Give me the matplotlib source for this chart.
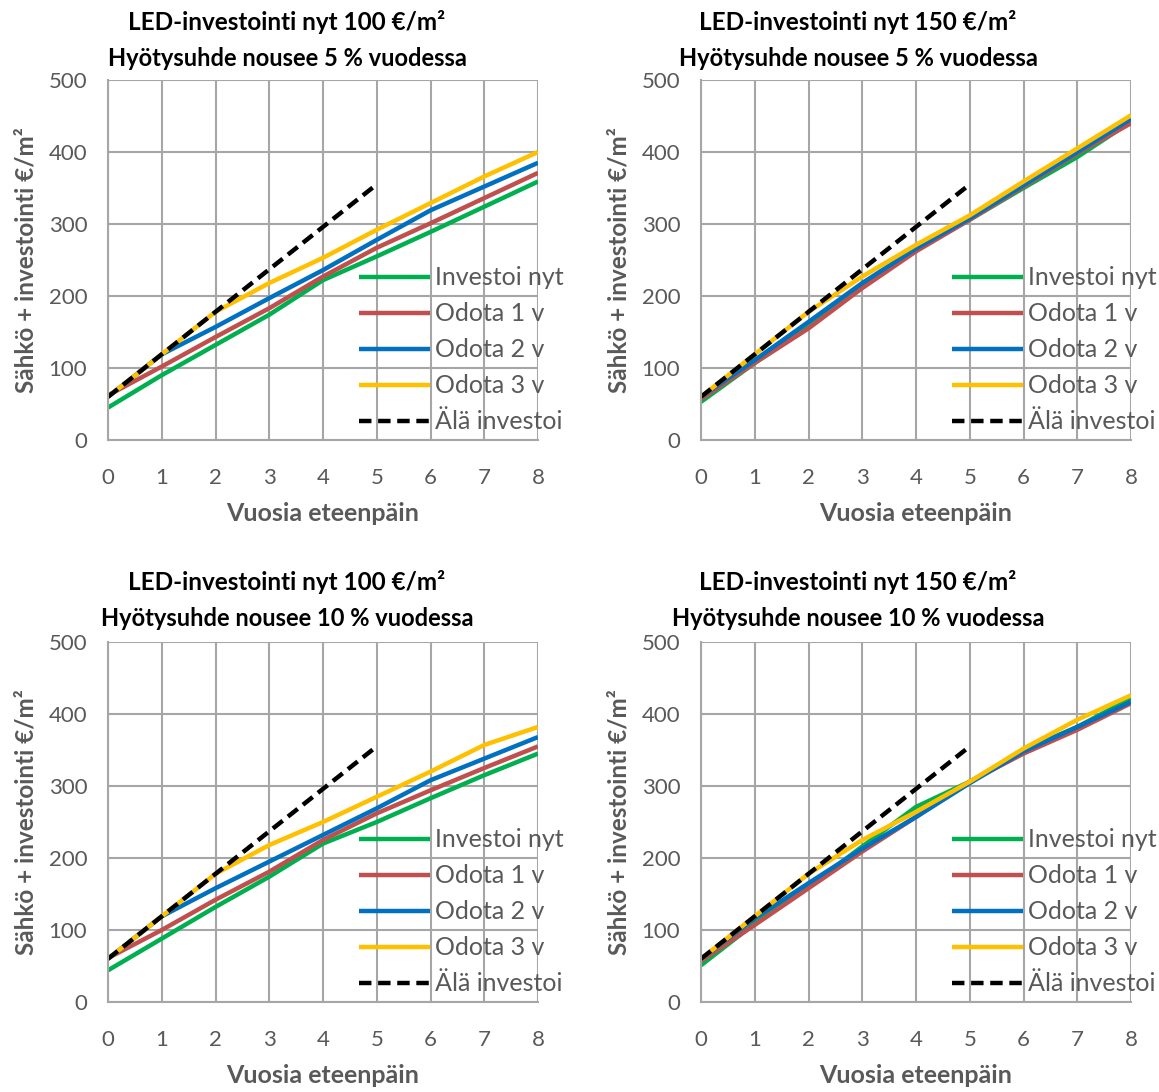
import matplotlib
matplotlib.use('Agg')
import matplotlib.pyplot as plt

plt.rcParams['font.family'] = ['Lato', 'DejaVu Sans']

years = [0, 1, 2, 3, 4, 5, 6, 7, 8]
years_no_inv = [0, 1, 2, 3, 4, 5]
series_names = ['Investoi nyt', 'Odota 1 v', 'Odota 2 v', 'Odota 3 v', 'Älä investoi']
colors = ['#00B050', '#C0504D', '#0070C0', '#FFC000', 'black']

# Älä investoi (sama kaikissa)
no_invest = [60, 119, 178, 237, 296, 355]

# 100 €/m2, 5 %
a_now = [45, 90, 132, 174, 222, 255, 289, 324, 359]
a_w1 = [62, 102, 143, 183, 227, 267, 301, 336, 371]
a_w2 = [60, 119, 157, 197, 236, 278, 319, 352, 385]
a_w3 = [60, 119, 178, 218, 253, 292, 329, 366, 400]

# 150 €/m2, 5 %
b_now = [53, 107, 157, 213, 264, 306, 350, 393, 442]
b_w1 = [57, 107, 155, 211, 262, 306, 352, 398, 440]
b_w2 = [60, 111, 164, 218, 266, 308, 354, 400, 446]
b_w3 = [60, 119, 178, 227, 271, 312, 359, 405, 451]

# 100 €/m2, 10 %
c_now = [44, 88, 132, 174, 220, 250, 283, 315, 345]
c_w1 = [61, 100, 142, 181, 225, 262, 294, 325, 355]
c_w2 = [60, 119, 158, 195, 232, 269, 308, 338, 368]
c_w3 = [60, 119, 178, 218, 250, 285, 320, 357, 382]

# 150 €/m2, 10 %
d_now = [51, 109, 160, 216, 271, 306, 350, 382, 422]
d_w1 = [57, 107, 158, 209, 257, 306, 345, 378, 415]
d_w2 = [60, 116, 165, 213, 257, 304, 348, 382, 417]
d_w3 = [60, 119, 178, 225, 264, 306, 352, 392, 426]

panels = [
    ('LED-investointi nyt 100 €/m²', 'Hyötysuhde nousee 5 % vuodessa', [a_now, a_w1, a_w2, a_w3]),
    ('LED-investointi nyt 150 €/m²', 'Hyötysuhde nousee 5 % vuodessa', [b_now, b_w1, b_w2, b_w3]),
    ('LED-investointi nyt 100 €/m²', 'Hyötysuhde nousee 10 % vuodessa', [c_now, c_w1, c_w2, c_w3]),
    ('LED-investointi nyt 150 €/m²', 'Hyötysuhde nousee 10 % vuodessa', [d_now, d_w1, d_w2, d_w3]),
]

W, H = 1159, 1092
fig = plt.figure(figsize=(W / 100, H / 100), dpi=100)

# pikseleinä: (vasen, oikea, ylä, ala), otsikon keskikohta
boxes = [(108, 538, 80, 440, 287, 22, 58),
         (701, 1131, 80, 440, 858, 22, 58),
         (108, 538, 642, 1002, 287, 582, 619),
         (701, 1131, 642, 1002, 858, 582, 619)]

grey = '#595959'
gridc = '#A6A6A6'

for (t1, t2, vals), (l, r, t, b, tx, ty1, ty2) in zip(panels, boxes):
    ax = fig.add_axes([l / W, 1 - b / H, (r - l) / W, (b - t) / H])
    for v, c, name in zip(vals, colors[:4], series_names[:4]):
        ax.plot(years, v, color=c, linewidth=3.2, label=name, solid_capstyle='butt')
    ax.plot(years_no_inv, no_invest, color='black', linewidth=3.2, linestyle=(0, (2.8, 1.5)),
            label=series_names[4])
    ax.set_xlim(0, 8)
    ax.set_ylim(0, 500)
    ax.set_xticks(years)
    ax.set_yticks(range(0, 501, 100))
    ax.grid(True, color=gridc, linewidth=1.5)
    ax.set_axisbelow(True)
    for s in ['top', 'right']:
        ax.spines[s].set_visible(False)
    for s in ['left', 'bottom']:
        ax.spines[s].set_color(gridc)
        ax.spines[s].set_linewidth(1.5)
    ax.tick_params(length=0, labelsize=16, labelcolor=grey)
    ax.tick_params(axis='y', pad=15)
    ax.tick_params(axis='x', pad=20)
    ax.set_xlabel('Vuosia eteenpäin', fontsize=18, fontweight='bold', color=grey, labelpad=10)
    ax.set_ylabel('Sähkö + investointi €/m²', fontsize=17.5, fontweight='bold', color=grey, labelpad=8)
    leg = ax.legend(loc='upper left', bbox_to_anchor=(0.56, 0.51), frameon=False,
                    fontsize=18, handlelength=2.85, handletextpad=0.2,
                    labelspacing=0.52, borderaxespad=0)
    for txt in leg.get_texts():
        txt.set_color(grey)
    fig.text(tx / W, 1 - ty1 / H, t1, ha='center', va='center', fontsize=17.5, fontweight='bold')
    fig.text(tx / W, 1 - ty2 / H, t2, ha='center', va='center', fontsize=17, fontweight='bold')

fig.savefig('out.png', dpi=100)
